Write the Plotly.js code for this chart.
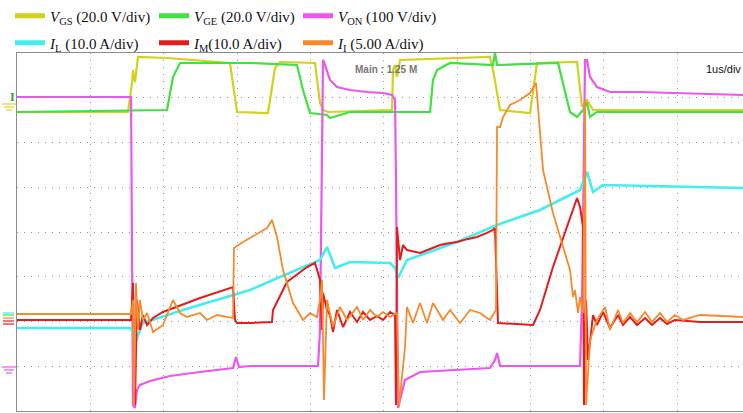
<!DOCTYPE html>
<html><head><meta charset="utf-8">
<script src="https://cdn.plot.ly/plotly-3.0.1.min.js"></script>
<style>html,body{margin:0;padding:0;background:#fff}#c{width:743px;height:413px}</style>
</head><body><div id="c"></div>
<script>
// Time in microseconds (1 us/div), values in screen divisions (centre = 0)
const tGS = [0,1.514,1.568,1.582,1.609,1.650,2.046,2.905,3.000,3.423,3.518,3.587,4.064,4.132,4.173,4.241,5.114,5.127,5.155,5.182,5.223,6.450,6.491,6.587,6.996,7.091,7.637,7.705,7.773,7.855,9.9];
const vGS = [2.682,2.682,3.330,3.620,3.352,3.911,3.888,3.777,2.682,2.659,3.665,3.799,3.777,2.883,2.726,2.682,2.726,3.620,3.732,3.464,3.844,3.911,3.620,2.726,2.659,3.777,3.799,2.793,2.950,2.726,2.726];

const tGE = [0,2.046,2.127,2.223,3.177,3.818,3.900,3.996,4.227,4.268,4.541,5.632,5.673,5.728,5.905,6.491,6.518,6.546,7.378,7.446,7.541,7.637,7.719,7.773,7.814,7.909,9.9];
const vGE = [2.682,2.726,3.464,3.777,3.777,3.732,3.173,2.659,2.615,2.547,2.682,2.682,3.397,3.620,3.777,3.732,4.0,3.732,3.777,3.330,2.682,2.570,2.726,2.883,2.570,2.682,2.682];

const tON = [0,1.555,1.582,1.609,1.636,1.677,1.814,2.086,2.496,2.946,2.987,3.027,3.177,4.105,4.132,4.173,4.200,4.268,4.364,4.541,4.773,4.991,5.114,5.155,5.168,5.196,5.223,5.291,5.496,5.905,6.450,6.518,6.546,6.587,7.678,7.705,7.746,7.773,7.814,7.909,8.087,8.496,8.946,9.9];
const vON = [3.017,3.017,-3.866,-3.933,-3.531,-3.419,-3.330,-3.218,-3.128,-3.039,-2.793,-3.017,-2.994,-2.994,-2.190,3.844,3.732,3.397,3.240,3.173,3.128,3.106,3.061,2.950,1.162,-3.933,-3.754,-3.307,-3.128,-3.084,-3.039,-2.860,-2.704,-2.994,-2.994,-1.520,3.844,3.844,3.464,3.240,3.128,3.128,3.106,3.061];

const tL = [0,1.541,1.582,1.609,1.650,1.718,2.264,3.177,3.587,4.132,4.227,4.337,4.541,5.087,5.155,5.196,5.318,6.000,6.546,7.132,7.678,7.773,7.855,7.991,9.9];
const vL = [-2.145,-2.145,-2.235,-2.525,-2.302,-2.034,-1.743,-1.296,-1.006,-0.626,-0.335,-0.804,-0.670,-0.693,-0.804,-1.028,-0.626,-0.223,0.156,0.492,0.939,1.341,0.894,1.050,0.983];

const tM = [0,1.555,1.582,1.596,1.609,1.636,1.677,1.718,1.773,1.855,1.991,2.496,2.905,2.946,2.973,3.000,3.177,3.477,3.491,3.655,3.682,3.955,4.064,4.132,4.159,4.173,4.227,4.268,4.309,4.364,4.446,4.541,4.637,4.718,4.814,4.909,4.991,5.087,5.155,5.168,5.182,5.223,5.264,5.318,5.496,5.632,5.768,5.905,6.000,6.136,6.273,6.409,6.491,6.518,6.546,6.559,7.037,7.132,7.309,7.541,7.637,7.678,7.719,7.732,7.760,7.787,7.814,7.855,7.909,7.991,8.087,8.196,8.264,8.360,8.455,8.564,8.660,8.769,8.864,8.973,9.314,9.9];
const vM = [-1.966,-1.966,-1.140,-2.190,-3.866,-1.520,-2.190,-1.855,-2.078,-1.922,-1.788,-1.475,-1.251,-1.229,-1.966,-2.034,-2.034,-2.011,-1.743,-1.229,-1.117,-0.782,-0.693,-1.073,-2.190,-1.363,-1.743,-1.855,-2.235,-1.743,-2.123,-1.788,-2.011,-1.788,-1.966,-1.877,-1.966,-1.788,-1.855,-3.866,0.112,-0.626,-0.291,-0.402,-0.469,-0.380,-0.290,-0.245,-0.223,-0.160,-0.110,-0.020,0.045,0.089,-1.520,-2.034,-2.078,-1.743,-0.782,0.335,0.760,0.559,0.112,-3.866,-1.520,-2.860,-2.413,-1.855,-2.078,-1.788,-2.145,-1.855,-2.078,-1.899,-2.078,-1.922,-2.078,-1.922,-2.056,-1.966,-2.011,-2.011];

const tI = [0,1.555,1.582,1.596,1.623,1.650,1.677,1.718,1.773,1.855,1.991,2.127,2.223,2.318,2.496,2.591,2.727,2.946,2.959,3.082,3.409,3.477,3.546,3.627,3.764,3.818,3.900,3.996,4.091,4.132,4.159,4.187,4.227,4.309,4.405,4.500,4.637,4.718,4.814,4.909,4.991,5.087,5.182,5.209,5.291,5.318,5.400,5.496,5.591,5.673,5.809,5.905,6.041,6.178,6.314,6.450,6.532,6.546,6.587,6.628,6.723,6.859,6.996,7.078,7.173,7.309,7.405,7.541,7.582,7.610,7.650,7.678,7.719,7.746,7.760,7.814,7.909,8.019,8.087,8.196,8.264,8.360,8.455,8.564,8.660,8.769,8.864,8.973,9.082,9.314,9.9];
const vI = [-1.832,-1.832,-1.520,-3.866,-1.140,-2.190,-1.520,-1.966,-1.810,-2.235,-2.078,-1.520,-1.810,-1.899,-1.810,-1.966,-1.855,-1.922,-0.358,-0.223,0.089,0.268,-0.112,-0.849,-1.587,-1.743,-1.966,-1.810,-1.899,-1.520,-1.073,-3.754,-1.520,-2.123,-1.676,-1.966,-1.676,-1.966,-1.743,-1.899,-1.788,-1.899,-1.810,-3.911,-2.570,-1.676,-2.034,-1.587,-2.034,-1.587,-1.966,-1.743,-2.034,-1.743,-1.810,-1.966,-1.743,2.346,2.346,2.570,2.838,2.950,3.106,3.330,1.385,0.425,-0.112,-0.849,-1.453,-1.296,-1.810,-1.453,-1.810,2.950,-3.866,-2.413,-1.966,-1.676,-2.190,-1.743,-2.034,-1.810,-2.011,-1.788,-2.011,-1.810,-2.011,-1.855,-1.966,-1.855,-1.899];

const names = ['<i>V</i><sub>GS</sub> (20.0 V/div)','<i>V</i><sub>GE</sub> (20.0 V/div)','<i>V</i><sub>ON</sub> (100 V/div)',
               '<i>I</i><sub>L</sub> (10.0 A/div)','<i>I</i><sub>M</sub>(10.0 A/div)','<i>I</i><sub>I</sub> (5.00 A/div)'];
const colors = ['#d2d21c','#3fe23f','#ee55ee','#44eeee','#e41c1c','#f68a2c'];

const series = [[tGS,vGS],[tGE,vGE],[tON,vON],[tL,vL],[tM,vM],[tI,vI]];
const widths = [2.2,2.2,2.2,2.6,2,1.8];
const traces = [];
series.forEach((s,i)=>{
  traces.push({x:s[0],y:s[1],mode:'lines',line:{color:colors[i],width:widths[i]},showlegend:false,hoverinfo:'skip'});
});
names.forEach((n,i)=>{
  traces.push({x:[null],y:[null],mode:'lines',name:n,line:{color:colors[i],width:5},legend: i<3?'legend':'legend2',showlegend:true});
});

// pixel helpers for decorations
const px=(p)=>(p-17)/726, py=(p)=>(411-p)/358;
const shapes=[];
function gnd(x,y,c){
  [[0,10],[2,8],[4,6]].forEach((d,k)=>{
    shapes.push({type:'line',xref:'paper',yref:'paper',x0:px(x+d[0]-2),x1:px(x+d[1]+2),y0:py(y+k*3),y1:py(y+k*3),line:{color:c,width:1.2}});
  });
}
gnd(4,104,'#d8d820');
gnd(4,367,'#ee55ee');
[[313,'#44eeee'],[315,'#3fe23f'],[318,'#f68a2c'],[321,'#e41c1c'],[324,'#e41c1c']].forEach(a=>{
  shapes.push({type:'line',xref:'paper',yref:'paper',x0:px(3),x1:px(14),y0:py(a[0]),y1:py(a[0]),line:{color:a[1],width:1.2}});
});

const legBase = {orientation:'h',xanchor:'left',yanchor:'middle',entrywidth:99,entrywidthmode:'pixels',
  font:{family:'Liberation Serif, DejaVu Serif, serif',size:15,color:'#111'},bgcolor:'rgba(0,0,0,0)',borderwidth:0,itemclick:false};

const axBase = {showgrid:true,dtick:1,tick0:0,gridcolor:'#9a9a9a',gridwidth:1,griddash:'1px,6px',zeroline:false,
  showticklabels:false,ticks:'',showline:true,linecolor:'#8c8c8c',linewidth:1};

const layout = {
  width:743,height:413,
  margin:{l:17,r:0,t:53,b:2,autoexpand:false},
  paper_bgcolor:'#ffffff',plot_bgcolor:'#ffffff',
  xaxis:Object.assign({},axBase,{range:[0,9.9],mirror:true}),
  yaxis:Object.assign({},axBase,{range:[-4,4],mirror:false}),
  showlegend:true,
  legend:Object.assign({},legBase,{x:px(10),y:py(16)}),
  legend2:Object.assign({},legBase,{x:px(10),y:py(43)}),
  shapes:shapes,
  annotations:[
    {xref:'paper',yref:'paper',x:px(386),y:py(62),text:'<b>Main : 1.25 M</b>',showarrow:false,font:{family:'Liberation Sans, Arial',size:10,color:'#777'}},
    {xref:'paper',yref:'paper',x:px(704),y:py(61),xanchor:'left',text:'1us/div',showarrow:false,font:{family:'Liberation Sans, Arial',size:11,color:'#111'}},
    {xref:'paper',yref:'paper',x:px(8),y:py(88),text:'<b>I</b>',showarrow:false,font:{family:'Liberation Serif',size:12,color:'#1faa1f'}}
  ]
};
Plotly.newPlot('c',traces,layout,{staticPlot:true,displayModeBar:false});
</script></body></html>
